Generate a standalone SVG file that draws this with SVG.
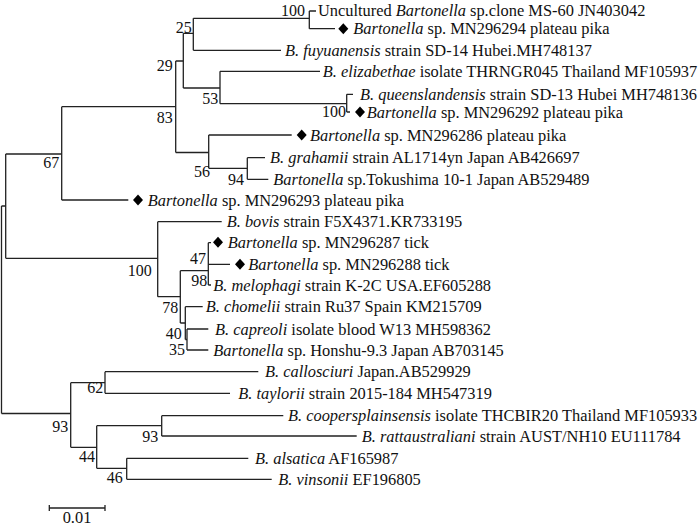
<svg xmlns="http://www.w3.org/2000/svg" xmlns:xlink="http://www.w3.org/1999/xlink" width="700" height="527" viewBox="0 0 700 527" font-family="'Liberation Serif', 'Times New Roman', 'DejaVu Serif', serif">
<style>
text{font-family:'Liberation Serif','Times New Roman','DejaVu Serif',serif;font-size:16.4px;fill:#111}
.i{font-style:italic}
.e{stroke:#222;stroke-width:1.3;fill:none}
.s{text-anchor:end;font-size:16px}
</style>
<defs>
<path id="dm" d="M0,-5.5 L5,0 L0,5.5 L-5,0 Z" fill="#000"/>
</defs>
<rect width="700" height="527" fill="#fff"/>
<g id="connectors" class="e">
<path d="M1.5,206V413.5M1.5,206H5.7M1.5,413.5H70.7"/>
<path d="M5.7,154V258.3M5.7,154H61.7M5.7,258.3H157.7"/>
<path d="M61.7,106.7V200M61.7,106.7H175.7M61.7,200H128.3"/>
<path d="M175.7,61V152.5M175.7,61H183.3M175.7,152.5H208.7"/>
<path d="M183.3,33.3V88M183.3,33.3H193.3M183.3,88H220"/>
<path d="M193.3,18.3V50.3M193.3,18.3H309.3M193.3,50.3H281"/>
<path d="M309.3,11V28.7M309.3,11H316M309.3,28.7H335"/>
<path d="M220,71.3V103.7M220,71.3H320M220,103.7H346.7"/>
<path d="M346.7,94.3V112M346.7,94.3H353M346.7,112H350"/>
<path d="M208.7,135V168.3M208.7,135H291.7M208.7,168.3H247.3"/>
<path d="M247.3,157.7V179.3M247.3,157.7H265M247.3,179.3H268.3"/>
<path d="M157.7,221.7V296.7M157.7,221.7H221.7M157.7,296.7H180.3"/>
<path d="M180.3,270.7V323M180.3,270.7H208.3M180.3,323H185.3"/>
<path d="M208.3,242.7V285M208.3,242.7H211M208.3,264.3H230M208.3,285H211"/>
<path d="M185.3,306.7V339.5M185.3,306.7H202.7M185.3,339.5H187"/>
<path d="M187,329V350M187,329H208.3M187,350H208.3"/>
<path d="M70.7,382.7V447.3M70.7,382.7H105M70.7,447.3H96.7"/>
<path d="M105,371.7V393.3M105,371.7H258.3M105,393.3H230"/>
<path d="M96.7,425.7V468.3M96.7,425.7H161.7M96.7,468.3H126.7"/>
<path d="M161.7,415.7V436M161.7,415.7H283.3M161.7,436H356.7"/>
<path d="M126.7,458.3V479.3M126.7,458.3H248.3M126.7,479.3H271.7"/>
</g>
<g id="leaf-uncultured"><text x="318" y="15.5">Uncultured <tspan class="i">Bartonella</tspan> sp.clone MS-60 JN403042</text></g>
<g id="leaf-mn296294"><use xlink:href="#dm" x="343.3" y="28.7"/><text x="353.3" y="34.2"><tspan class="i">Bartonella</tspan> sp. MN296294 plateau pika</text></g>
<g id="leaf-fuyuanensis"><text x="285" y="55.8"><tspan class="i">B. fuyuanensis</tspan> strain SD-14 Hubei.MH748137</text></g>
<g id="leaf-elizabethae"><text x="322.7" y="76.8"><tspan class="i">B. elizabethae</tspan> isolate THRNGR045 Thailand MF105937</text></g>
<g id="leaf-queenslandensis"><text x="360" y="99.8"><tspan class="i">B. queenslandensis</tspan> strain SD-13 Hubei MH748136</text></g>
<g id="leaf-mn296292"><use xlink:href="#dm" x="360" y="112"/><text x="366.7" y="117.5"><tspan class="i">Bartonella</tspan> sp. MN296292 plateau pika</text></g>
<g id="leaf-mn296286"><use xlink:href="#dm" x="301.7" y="135"/><text x="310" y="140.5"><tspan class="i">Bartonella</tspan> sp. MN296286 plateau pika</text></g>
<g id="leaf-grahamii"><text x="270" y="163.2"><tspan class="i">B. grahamii</tspan> strain AL1714yn Japan AB426697</text></g>
<g id="leaf-tokushima"><text x="273.3" y="184.8"><tspan class="i">Bartonella</tspan> sp.Tokushima 10-1 Japan AB529489</text></g>
<g id="leaf-mn296293"><use xlink:href="#dm" x="138" y="200"/><text x="147.7" y="205.5"><tspan class="i">Bartonella</tspan> sp. MN296293 plateau pika</text></g>
<g id="leaf-bovis"><text x="226.7" y="227.2"><tspan class="i">B. bovis</tspan> strain F5X4371.KR733195</text></g>
<g id="leaf-mn296287"><use xlink:href="#dm" x="218" y="242.2"/><text x="227.7" y="247.7"><tspan class="i">Bartonella</tspan> sp. MN296287 tick</text></g>
<g id="leaf-mn296288"><use xlink:href="#dm" x="240" y="264.3"/><text x="248.3" y="269.8"><tspan class="i">Bartonella</tspan> sp. MN296288 tick</text></g>
<g id="leaf-melophagi"><text x="213.3" y="290.5"><tspan class="i">B. melophagi</tspan> strain K-2C USA.EF605288</text></g>
<g id="leaf-chomelii"><text x="205.7" y="312.2"><tspan class="i">B. chomelii</tspan> strain Ru37 Spain KM215709</text></g>
<g id="leaf-capreoli"><text x="215" y="334.5"><tspan class="i">B. capreoli</tspan> isolate blood W13 MH598362</text></g>
<g id="leaf-honshu"><text x="213.3" y="355.5"><tspan class="i">Bartonella</tspan> sp. Honshu-9.3 Japan AB703145</text></g>
<g id="leaf-callosciuri"><text x="265" y="377.2"><tspan class="i">B. callosciuri</tspan> Japan.AB529929</text></g>
<g id="leaf-taylorii"><text x="238.3" y="398.8"><tspan class="i">B. taylorii</tspan> strain 2015-184 MH547319</text></g>
<g id="leaf-coopersplainsensis"><text x="288" y="421.2"><tspan class="i">B. coopersplainsensis</tspan> isolate THCBIR20 Thailand MF105933</text></g>
<g id="leaf-rattaustraliani"><text x="361.7" y="441.5"><tspan class="i">B. rattaustraliani</tspan> strain AUST/NH10 EU111784</text></g>
<g id="leaf-alsatica"><text x="255" y="463.8"><tspan class="i">B. alsatica</tspan> AF165987</text></g>
<g id="leaf-vinsonii"><text x="278.3" y="484.8"><tspan class="i">B. vinsonii</tspan> EF196805</text></g>
<g id="support">
<text class="s" x="305" y="16">100</text>
<text class="s" x="191.7" y="32.5">25</text>
<text class="s" x="172.7" y="70.5">29</text>
<text class="s" x="218.3" y="104">53</text>
<text class="s" x="172.7" y="122.7">83</text>
<text class="s" x="346" y="117">100</text>
<text class="s" x="59.3" y="168">67</text>
<text class="s" x="210" y="176.5">56</text>
<text class="s" x="244" y="185">94</text>
<text class="s" x="151.7" y="276">100</text>
<text class="s" x="206" y="264">47</text>
<text class="s" x="207.3" y="286">98</text>
<text class="s" x="178.3" y="313">78</text>
<text class="s" x="181.7" y="339">40</text>
<text class="s" x="185" y="355">35</text>
<text class="s" x="103.3" y="393">62</text>
<text class="s" x="68.3" y="431.5">93</text>
<text class="s" x="95" y="461.5">44</text>
<text class="s" x="158.3" y="441.5">93</text>
<text class="s" x="122.7" y="483">46</text>
</g>
<g id="scale-bar">
<path class="e" d="M49.3,508H105M49.3,505V511M105,505V511"/>
<text x="77" y="522.5" text-anchor="middle" font-size="16px">0.01</text>
</g>
</svg>
